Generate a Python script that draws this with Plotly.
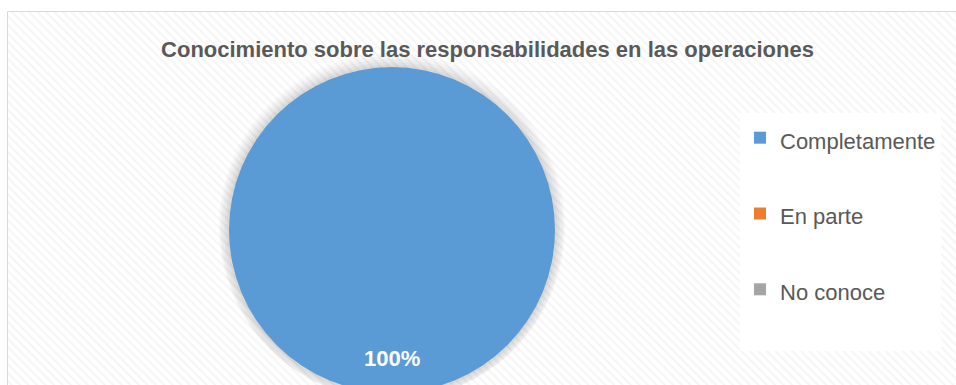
import plotly.graph_objects as go

categories = ["Completamente", "En parte", "No conoce"]
values = [100, 0, 0]
colors = ["#5B9BD5", "#ED7D31", "#A5A5A5"]
title_text = "Conocimiento sobre las responsabilidades en las operaciones"

W, H = 956, 400
FONT = "Liberation Sans, Arial, sans-serif"

fig = go.Figure()

# hatched chart-area background (extends past the right edge)
fig.add_trace(go.Scatter(
    x=[7.5, 970, 970, 7.5, 7.5], y=[11.5, 11.5, 420, 420, 11.5],
    mode="lines", fill="toself", line=dict(color="#D9D9D9", width=1),
    fillcolor="white",
    fillpattern=dict(shape="\\", fgcolor="#EBEBEB", bgcolor="white", size=6, solidity=0.35),
    hoverinfo="skip", showlegend=False))

# soft shadow around pie
pie_x = [229 / W, 555 / W]
pie_y = [1 - 393 / H, 1 - 67 / H]
for i, (pad, op) in enumerate([(14, 0.02), (11, 0.025), (8, 0.03), (5, 0.035), (2.5, 0.04)]):
    fig.add_trace(go.Pie(
        labels=[f"shadow{i}"], values=[1], sort=False,
        marker=dict(colors=[f"rgba(0,0,0,{op})"], line=dict(width=0)),
        domain=dict(x=[pie_x[0] - pad / W, pie_x[1] + pad / W],
                    y=[max(0, pie_y[0] - pad / H), pie_y[1] + pad / H]),
        textinfo="none", hoverinfo="skip", showlegend=False))

total = sum(values)
legend_labels = [f"<span style='font-size:22px'>{c}</span><br> " for c in categories]
fig.add_trace(go.Pie(
    labels=legend_labels, values=values, sort=False, direction="clockwise",
    marker=dict(colors=colors, line=dict(width=0)),
    domain=dict(x=pie_x, y=pie_y),
    textinfo="none", hoverinfo="percent"))

pct = values[0] / total * 100
fig.add_annotation(
    x=392 / W, y=1 - 358 / H, xref="paper", yref="paper",
    xanchor="center", yanchor="middle",
    text=f"<b>{pct:.0f}%</b>", showarrow=False,
    font=dict(family=FONT, size=22, color="white"))

fig.update_layout(
    width=W, height=H, margin=dict(l=0, r=0, t=0, b=0),
    paper_bgcolor="white", plot_bgcolor="white",
    xaxis=dict(range=[0, W], visible=False, fixedrange=True),
    yaxis=dict(range=[H, 0], visible=False, fixedrange=True),
    title=dict(text=f"<b>{title_text}</b>", x=487.5 / W, xanchor="center",
               y=1 - 49 / H, yanchor="middle",
               font=dict(family=FONT, size=22, color="#595959")),
    legend=dict(x=740 / W, y=1 - 113 / H, xanchor="left", yanchor="top",
                bgcolor="white", valign="top", itemwidth=30, entrywidth=168,
                font=dict(family=FONT, size=28, color="#595959")),
)

fig.write_html("out.html")
